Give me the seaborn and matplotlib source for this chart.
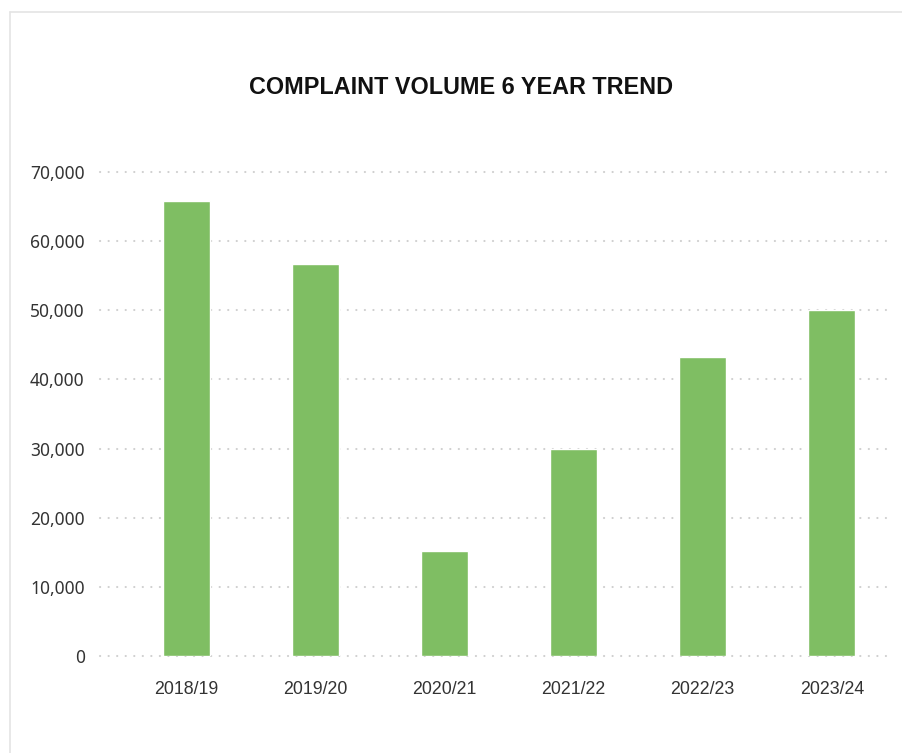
import matplotlib
matplotlib.use("Agg")
import matplotlib.pyplot as plt
import seaborn as sns
import pandas as pd
from matplotlib.lines import Line2D
from matplotlib.ticker import FuncFormatter

years = ["2018/19", "2019/20", "2020/21", "2021/22", "2022/23", "2023/24"]
complaints = [65800, 56700, 15200, 30000, 43200, 50000]
y_ticks = [0, 10000, 20000, 30000, 40000, 50000, 60000, 70000]
title = "COMPLAINT VOLUME 6 YEAR TREND"

sns.set_theme(style="white")
plt.rcParams["font.family"] = ["Liberation Sans", "DejaVu Sans"]

df = pd.DataFrame({"year": years, "complaints": complaints})

fig = plt.figure(figsize=(9.03, 7.53), dpi=100)
ax = fig.add_axes([100/903, 1-656/753, (886-100)/903, (656-172)/753])

sns.barplot(data=df, x="year", y="complaints", color="#7fbe63", width=0.364,
            saturation=1, ax=ax, zorder=3)

ax.set_xlim(-0.67, 5.42)
ax.set_ylim(0, 70000)
ax.set_yticks(y_ticks)
ax.yaxis.set_major_formatter(FuncFormatter(lambda v, p: f"{int(v):,}"))
ax.grid(axis="y", color="#cfcfcf", linestyle=(0, (0.1, 4)), linewidth=1.5,
        dash_capstyle="round", zorder=0)
for g in ax.get_ygridlines():
    g.set_clip_on(False)
ax.set_xlabel("")
ax.set_ylabel("")
for s in ax.spines.values():
    s.set_visible(False)
ax.tick_params(axis="both", length=0, colors="#333333")
ax.tick_params(axis="y", pad=11)
ax.tick_params(axis="x", pad=18)
for lab in ax.get_yticklabels():
    lab.set_fontfamily(["Noto Sans", "DejaVu Sans"])
    lab.set_fontsize(12.5)
for lab in ax.get_xticklabels():
    lab.set_fontsize(12.8)

fig.text(461/903, 1-88/753, title, ha="center", va="center", fontsize=16.8,
         fontweight="bold", color="#111111")

# panel border (top and left)
fig.add_artist(Line2D([10/903, 1.0], [1-12/753, 1-12/753], transform=fig.transFigure,
                      color="#e4e4e4", linewidth=1.2))
fig.add_artist(Line2D([10/903, 10/903], [0, 1-12/753], transform=fig.transFigure,
                      color="#e4e4e4", linewidth=1.2))

fig.savefig("out.png", dpi=100, facecolor="white")
